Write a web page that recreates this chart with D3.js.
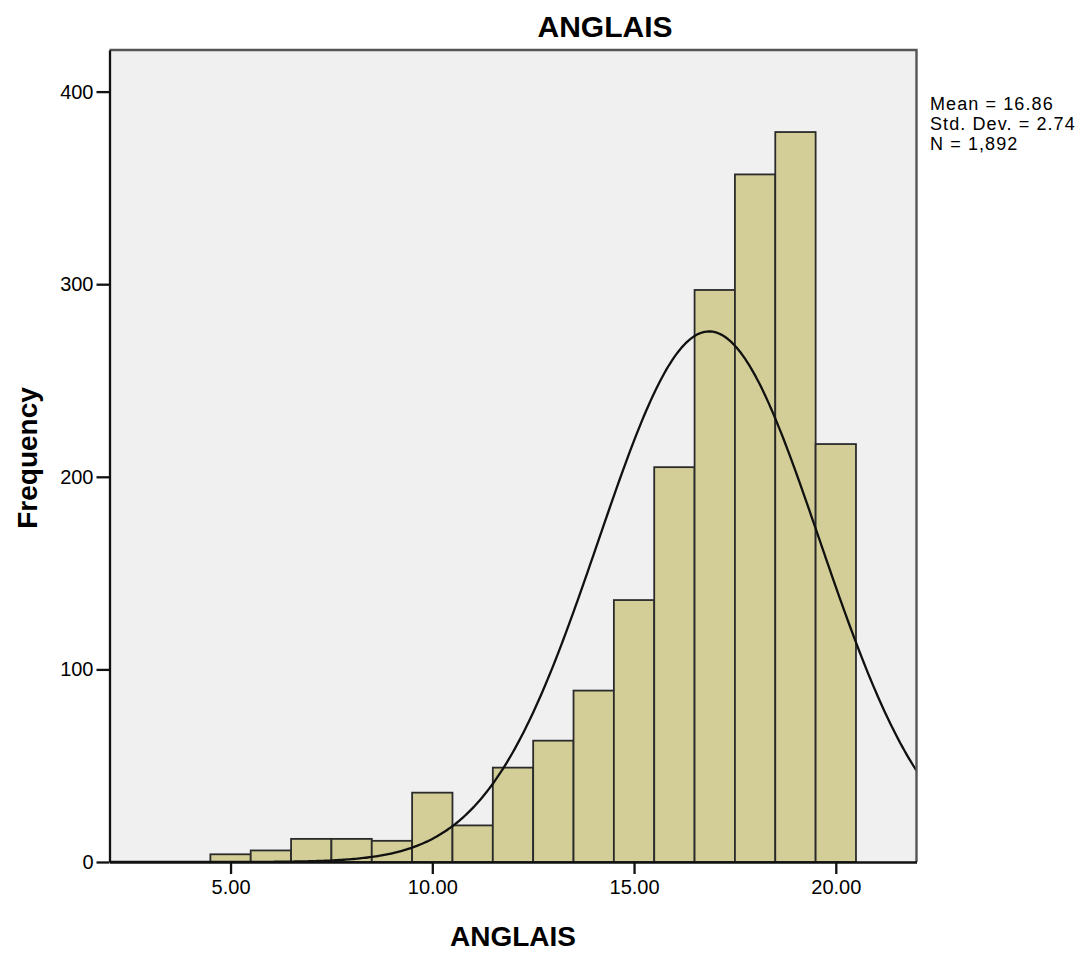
<!DOCTYPE html>
<html>
<head>
<meta charset="utf-8">
<script src="https://cdn.jsdelivr.net/npm/d3@7"></script>
<style>
  html, body { margin: 0; padding: 0; background: #ffffff; }
  svg text { font-family: "Liberation Sans", Arial, sans-serif; fill: #000; }
</style>
</head>
<body>
<svg id="chart" width="1090" height="953"></svg>
<script>
// Histogram of ANGLAIS scores (bin width 1, centred on whole numbers)
const binCenters = [5, 6, 7, 8, 9, 10, 11, 12, 13, 14, 15, 16, 17, 18, 19, 20];
const counts     = [4, 6, 12, 12, 11, 36, 19, 49, 63, 89, 136, 205, 297, 357, 379, 217];
const binWidth = 1;

// Summary statistics shown beside the plot
const meanValue = 16.86;
const stdDev = 2.74;
const nTotal = 1892;
const statLines = ["Mean = 16.86", "Std. Dev. = 2.74", "N = 1,892"];

// Axis settings
const xDomain = [2, 22];
const yDomain = [0, 421.6];
const xTicks = [5, 10, 15, 20];
const yTicks = [0, 100, 200, 300, 400];

const svg = d3.select("#chart");
const plot = { left: 109.5, right: 916.5, top: 50, bottom: 862 };

const x = d3.scaleLinear().domain(xDomain).range([plot.left, plot.right]);
const y = d3.scaleLinear().domain(yDomain).range([plot.bottom, plot.top]);

// Plot background
svg.append("rect")
  .attr("x", plot.left).attr("y", plot.top)
  .attr("width", plot.right - plot.left).attr("height", plot.bottom - plot.top)
  .attr("fill", "#f0f0f0");

svg.append("defs").append("clipPath").attr("id", "plotClip")
  .append("rect")
  .attr("x", plot.left).attr("y", plot.top)
  .attr("width", plot.right - plot.left).attr("height", plot.bottom - plot.top);

// Bars
const bins = binCenters.map((c, i) => ({ c, n: counts[i] }));
svg.append("g").selectAll("rect")
  .data(bins)
  .join("rect")
  .attr("x", d => x(d.c - binWidth / 2))
  .attr("y", d => y(d.n))
  .attr("width", d => x(d.c + binWidth / 2) - x(d.c - binWidth / 2))
  .attr("height", d => y(0) - y(d.n))
  .attr("fill", "#d3ce97")
  .attr("stroke", "#2b2b2b")
  .attr("stroke-width", 1.8);

// Fitted normal curve scaled to counts
const pdf = v => Math.exp(-((v - meanValue) ** 2) / (2 * stdDev * stdDev)) / (stdDev * Math.sqrt(2 * Math.PI));
const curvePts = d3.range(xDomain[0], xDomain[1] + 0.001, 0.05).map(v => [v, nTotal * binWidth * pdf(v)]);
svg.append("path")
  .datum(curvePts)
  .attr("clip-path", "url(#plotClip)")
  .attr("fill", "none")
  .attr("stroke", "#111")
  .attr("stroke-width", 2.3);

svg.select("path[clip-path]")
  .attr("d", d3.line().x(d => x(d[0])).y(d => y(d[1])));

// Frame: top and right edges
svg.append("path")
  .attr("d", `M${plot.left},${plot.top}H${plot.right}V${plot.bottom}`)
  .attr("fill", "none")
  .attr("stroke", "#555")
  .attr("stroke-width", 2.4);

// Axes
const yAxis = svg.append("g")
  .attr("transform", `translate(${plot.left},0)`)
  .call(d3.axisLeft(y).tickValues(yTicks).tickSize(13).tickSizeOuter(0).tickPadding(3).tickFormat(d3.format("d")));
const xAxis = svg.append("g")
  .attr("transform", `translate(0,${plot.bottom})`)
  .call(d3.axisBottom(x).tickValues(xTicks).tickSize(12).tickSizeOuter(0).tickPadding(6).tickFormat(d3.format(".2f")));

[xAxis, yAxis].forEach(g => {
  g.select(".domain").attr("stroke", "#111").attr("stroke-width", 2.3);
  g.selectAll(".tick line").attr("stroke", "#111").attr("stroke-width", 2.3);
  g.selectAll(".tick text")
    .attr("font-family", "'Liberation Sans', Arial, sans-serif")
    .attr("font-size", 20).attr("fill", "#111");
});

// Titles
svg.append("text")
  .attr("x", 605).attr("y", 37)
  .attr("text-anchor", "middle")
  .attr("font-size", 30).attr("font-weight", "bold")
  .text("ANGLAIS");

svg.append("text")
  .attr("x", (plot.left + plot.right) / 2).attr("y", 946)
  .attr("text-anchor", "middle")
  .attr("font-size", 28).attr("font-weight", "bold")
  .text("ANGLAIS");

svg.append("text")
  .attr("transform", `translate(37,${(plot.top + plot.bottom) / 2 + 2}) rotate(-90)`)
  .attr("text-anchor", "middle")
  .attr("font-size", 28).attr("font-weight", "bold")
  .text("Frequency");

// Statistics block
svg.append("g").selectAll("text")
  .data(statLines)
  .join("text")
  .attr("x", 930)
  .attr("y", (d, i) => 110 + i * 20)
  .attr("font-size", 18)
  .attr("letter-spacing", 1.1)
  .text(d => d);
</script>
</body>
</html>
